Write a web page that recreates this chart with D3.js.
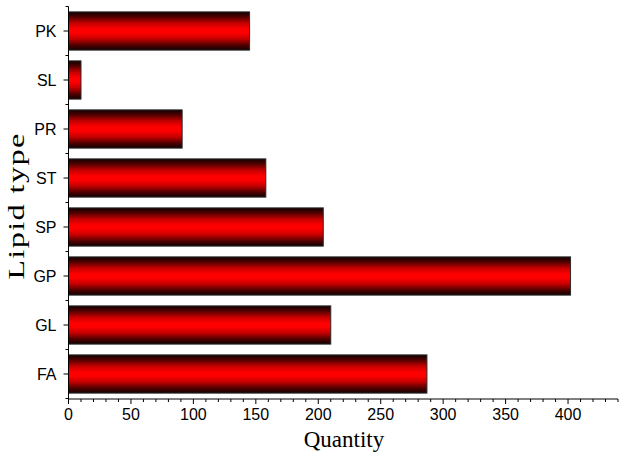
<!DOCTYPE html>
<html><head><meta charset="utf-8">
<script src="https://cdn.jsdelivr.net/npm/d3@7"></script>
<style>body{margin:0;background:#fff}svg{display:block}</style>
</head><body>
<svg id="c" width="624" height="460"></svg>
<script>
const categories = ["PK","SL","PR","ST","SP","GP","GL","FA"];
const values = [145, 10, 91, 158, 204, 402, 210, 287];
const xTicks = [0,50,100,150,200,250,300,350,400];
const xTitle = "Quantity";
const yTitle = "Lipid type";

const svg = d3.select("#c");
const m = {left:68.5, right:6, top:6.5, bottom:61.5};
const W = 624, H = 460;
const x = d3.scaleLinear().domain([0,440]).range([m.left, W - m.right]);
const y = d3.scaleBand().domain(categories).range([m.top, H - m.bottom]).paddingInner(0.22).paddingOuter(0.11);

const defs = svg.append("defs");
const g = defs.append("linearGradient").attr("id","bg").attr("x1",0).attr("y1",0).attr("x2",0).attr("y2",1);
[[0,"#120000"],[0.12,"#4a0000"],[0.3,"#c80000"],[0.45,"#ff0000"],[0.55,"#ff0000"],[0.7,"#c80000"],[0.88,"#4a0000"],[1,"#120000"]]
  .forEach(([o,c]) => g.append("stop").attr("offset",o).attr("stop-color",c));

svg.append("g").selectAll("rect").data(categories).join("rect")
  .attr("x", x(0))
  .attr("y", d => y(d))
  .attr("width", (d,i) => x(values[i]) - x(0))
  .attr("height", y.bandwidth())
  .attr("fill","url(#bg)")
  .attr("stroke","#2a2a2a").attr("stroke-width",1);

// x axis
const xa = svg.append("g").attr("transform",`translate(0,${H - m.bottom + 0.5})`);
xa.append("line").attr("x1", x(0)).attr("x2", x(440)).attr("stroke","#000");
xa.selectAll("line.mn").data(d3.range(0,441,10)).join("line").attr("class","mn")
  .attr("x1", d=>x(d)).attr("x2", d=>x(d)).attr("y1",0).attr("y2", d => d%50===0 ? 5 : 3).attr("stroke","#000");
xa.selectAll("text").data(xTicks).join("text")
  .attr("x", d=>x(d)).attr("y", 21).attr("text-anchor","middle")
  .attr("font-family","Liberation Sans, Arial, sans-serif").attr("font-size",16).text(d=>d);

// y axis
const ya = svg.append("g").attr("transform",`translate(${m.left},0)`);
ya.append("line").attr("y1", m.top).attr("y2", H - m.bottom + 0.5).attr("stroke","#000");
const step = y.step();
const minorY = d3.range(categories.length + 1).map(i => m.top + i*step);
ya.selectAll("line.mn").data(minorY).join("line").attr("class","mn")
  .attr("x1",-3).attr("x2",0).attr("y1",d=>d).attr("y2",d=>d).attr("stroke","#000");
ya.selectAll("line.mj").data(categories).join("line").attr("class","mj")
  .attr("x1",-5).attr("x2",0).attr("y1",d=>y(d)+y.bandwidth()/2).attr("y2",d=>y(d)+y.bandwidth()/2).attr("stroke","#000");
ya.selectAll("text").data(categories).join("text")
  .attr("x",-12).attr("y", d=>y(d)+y.bandwidth()/2).attr("dy","0.36em").attr("text-anchor","end")
  .attr("font-family","Liberation Sans, Arial, sans-serif").attr("font-size",16).text(d=>d);

svg.append("text").attr("x", 344).attr("y", 447).attr("text-anchor","middle")
  .attr("font-family","Liberation Serif, Times New Roman, serif").attr("font-size",23).text(xTitle);
svg.append("text").attr("transform","translate(24,206) rotate(-90) scale(1.35,1)").attr("text-anchor","middle")
  .attr("letter-spacing", 1)
  .attr("font-family","Liberation Serif, Times New Roman, serif").attr("font-size",24).text(yTitle);
</script>
</body></html>
